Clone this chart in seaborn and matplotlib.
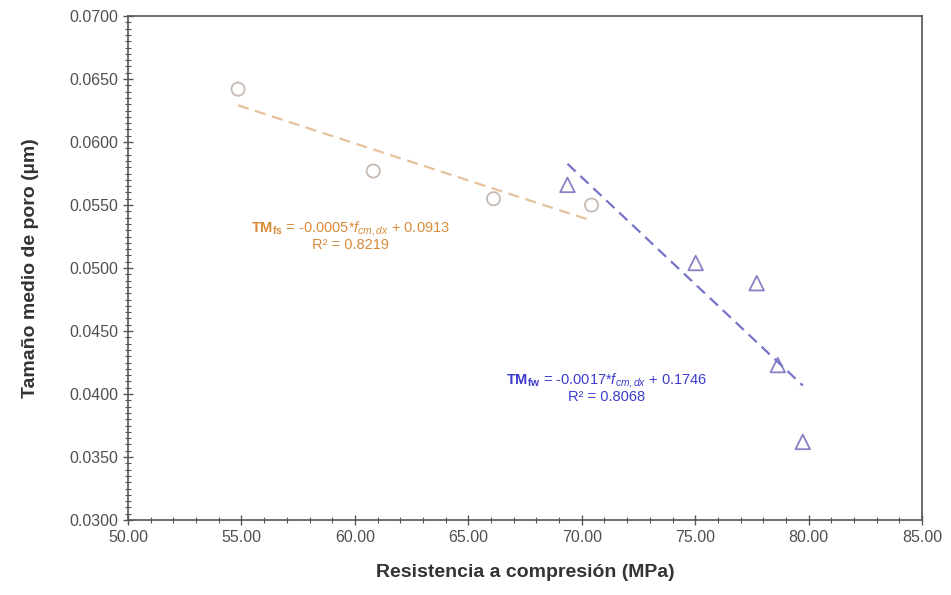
import matplotlib
matplotlib.use('Agg')
import matplotlib.pyplot as plt
import numpy as np
import seaborn as sns
from matplotlib.ticker import MultipleLocator, FormatStrFormatter

# serie 1 (circulos)
x_c = [54.85, 60.81, 66.11, 70.43]
y_c = [0.0642, 0.0577, 0.0555, 0.0550]
# serie 2 (triangulos)
x_t = [69.37, 75.02, 77.71, 78.64, 79.74]
y_t = [0.0566, 0.0504, 0.0488, 0.0423, 0.0362]

eq_c = r'$\mathbf{TM_{fs}}$ = -0.0005*$f_{cm,dx}$ + 0.0913' + '\nR² = 0.8219'
eq_t = r'$\mathbf{TM_{fw}}$ = -0.0017*$f_{cm,dx}$ + 0.1746' + '\nR² = 0.8068'

sns.set_style('white')
plt.rcParams['font.family'] = ['Liberation Sans', 'DejaVu Sans']
plt.rcParams['mathtext.fontset'] = 'custom'
plt.rcParams['mathtext.rm'] = 'Liberation Sans'
plt.rcParams['mathtext.it'] = 'Liberation Sans:italic'
plt.rcParams['mathtext.bf'] = 'Liberation Sans:bold'

fig = plt.figure(figsize=(9.51, 5.95), dpi=100)
ax = fig.add_axes([0.1346, 0.126, 0.835, 0.847])

sns.regplot(x=x_c, y=y_c, ax=ax, ci=None, truncate=True,
            scatter_kws=dict(s=90, facecolors='none', edgecolors='#b8aaa2', linewidths=1.3),
            line_kws=dict(color='#e6c29c', linestyle='--', linewidth=1.6, dashes=(5, 3)))
sns.regplot(x=x_t, y=y_t, ax=ax, ci=None, truncate=True, marker='^',
            scatter_kws=dict(s=110, facecolors='none', edgecolors='#6a62b8', linewidths=1.3),
            line_kws=dict(color='#7574c8', linestyle='--', linewidth=1.6, dashes=(5, 3)))

ax.text(59.8, 0.0526, eq_c, ha='center', va='center', fontsize=10.5, color='#d98b3a',
        linespacing=1.0)
ax.text(71.1, 0.0405, eq_t, ha='center', va='center', fontsize=10.5, color='#3c3ccc',
        linespacing=1.0)

ax.set_xlim(50, 85)
ax.set_ylim(0.03, 0.07)
ax.xaxis.set_major_locator(MultipleLocator(5))
ax.xaxis.set_minor_locator(MultipleLocator(1))
ax.yaxis.set_major_locator(MultipleLocator(0.005))
ax.yaxis.set_minor_locator(MultipleLocator(0.0005))
ax.xaxis.set_major_formatter(FormatStrFormatter('%.2f'))
ax.yaxis.set_major_formatter(FormatStrFormatter('%.4f'))
ax.tick_params(which='major', direction='inout', length=7, width=1, color='#555555',
               labelsize=11.5, labelcolor='#505050')
ax.tick_params(which='minor', direction='inout', length=4, width=0.8, color='#555555')
ax.tick_params(axis='x', which='both', bottom=True)
ax.tick_params(axis='y', which='both', left=True)
for s in ax.spines.values():
    s.set_color('#555555')
    s.set_linewidth(1.2)

ax.set_xlabel('Resistencia a compresión (MPa)', fontsize=14, fontweight='bold',
              color='#333333', labelpad=14)
ax.set_ylabel('Tamaño medio de poro (µm)', fontsize=14, fontweight='bold',
              color='#333333', labelpad=22)

fig.savefig('out.png', dpi=100)
